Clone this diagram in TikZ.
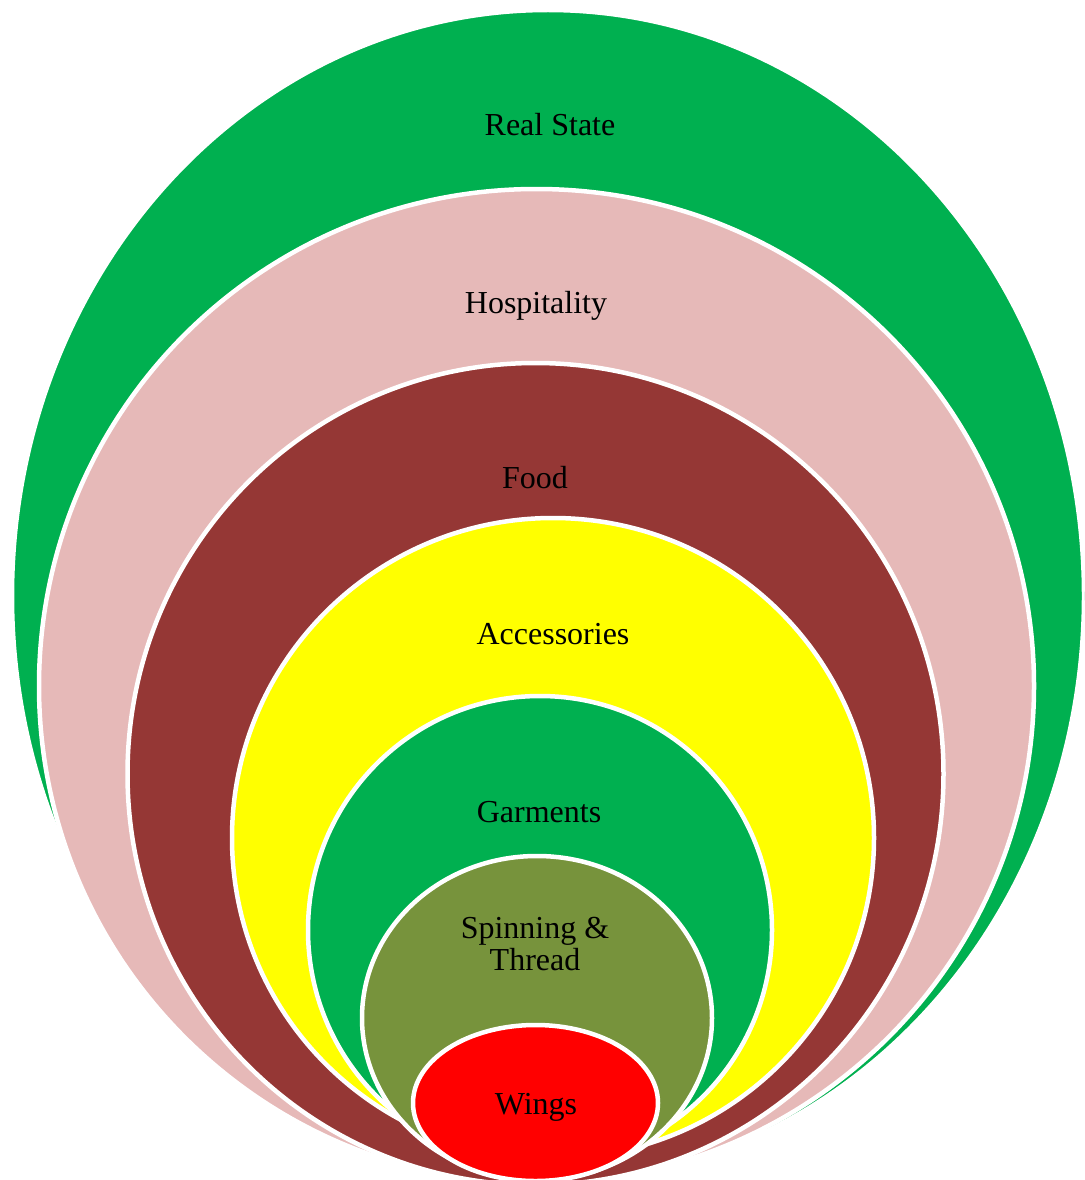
\documentclass[tikz,border=0pt]{standalone}
\usepackage{fontspec}
\setmainfont{Liberation Serif}
\usepackage{xcolor}
\definecolor{realgreen}{RGB}{0,176,80}
\definecolor{hostpink}{RGB}{230,185,184}
\definecolor{foodbrown}{RGB}{149,55,53}
\definecolor{accyellow}{RGB}{255,255,0}
\definecolor{spinolive}{RGB}{119,147,60}
\definecolor{wingred}{RGB}{255,0,0}
\tikzset{
  every picture/.style={line join=round, line cap=round},
  layer/.style={draw=white, line width=4.5pt},
  tag/.style={font=\fontsize{32}{32}\selectfont, align=center, text=black, inner sep=0pt},
}

\begin{document}
\begin{tikzpicture}[x=1pt,y=-1pt]
\path[use as bounding box](0,0) rectangle (1084,1180);
\clip(0,0) rectangle (1084,1180);
% rings, outermost first
\filldraw[layer,fill=realgreen](548,596) ellipse [x radius=536,y radius=586];
\filldraw[layer,fill=hostpink](536.5,686) ellipse [x radius=497.5,y radius=497];
\filldraw[layer,fill=foodbrown](535.5,774) ellipse [x radius=408,y radius=411];
\filldraw[layer,fill=accyellow](553,838) ellipse [x radius=321,y radius=320];
\filldraw[layer,fill=realgreen](540,930) ellipse [x radius=232,y radius=234];
\filldraw[layer,fill=spinolive](537,1018) ellipse [x radius=175,y radius=162];
\filldraw[layer,fill=wingred](535.5,1103) ellipse [x radius=122.5,y radius=78];
% labels
\node[tag](realstate) at (550,125) {Real State};
\node[tag](hospitality) at (536,306) {Hospitality};
\node[tag](food) at (535,478) {Food};
\node[tag](accessories) at (553,634) {Accessories};
\node[tag](garments) at (539,812) {Garments};
\node[tag](spinning) at (535,944) {Spinning \&\\Thread};
\node[tag](wings) at (536,1107) {Wings};
\end{tikzpicture}
\end{document}
